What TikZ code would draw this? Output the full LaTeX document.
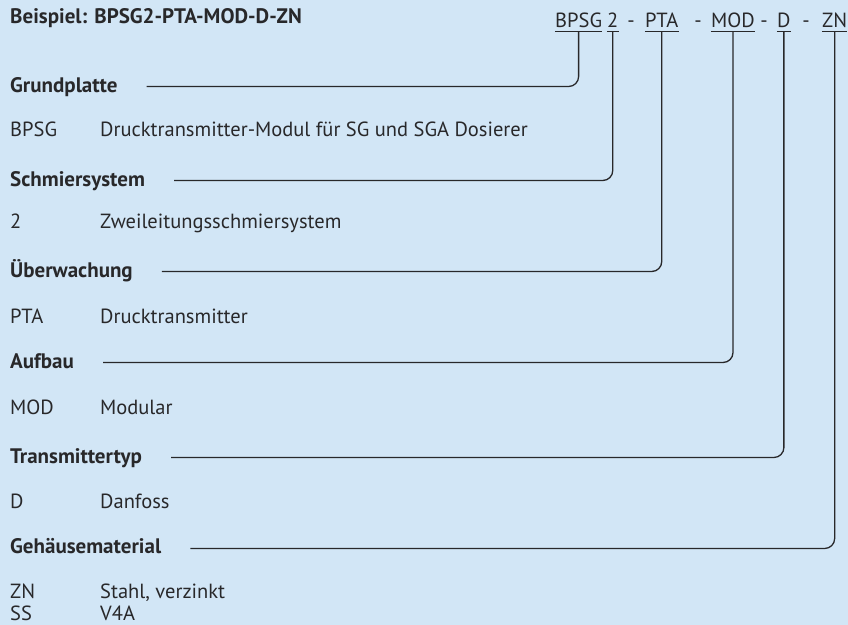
\documentclass[tikz,border=0pt]{standalone}
\usepackage{fontspec}
\setmainfont{PT Sans}
\usetikzlibrary{positioning, calc}
\definecolor{panelblue}{RGB}{210,230,246}
\definecolor{inkgray}{RGB}{40,40,42}

\begin{document}
\begin{tikzpicture}[
    x=1pt, y=-1pt,
    heading/.style={anchor=base west, inner sep=0pt, font=\fontsize{21}{24}\selectfont\bfseries, text=inkgray},
    code/.style={anchor=base west, inner sep=0pt, text depth=0pt, font=\fontsize{20.5}{24}\selectfont, text=inkgray},
    entry/.style={anchor=base west, inner sep=0pt, font=\fontsize{20.5}{24}\selectfont, text=inkgray},
    lead/.style={draw=inkgray, line width=1.3pt, rounded corners=10pt},
    uline/.style={draw=inkgray, line width=1.3pt},
]

% Background
\fill[panelblue] (0,0) rectangle (848,625);

% Example code
\node[heading] (example) at (10,23) {Beispiel: BPSG2-PTA-MOD-D-ZN};
\node[code] (bpsg) at (555,27) {BPSG};
\node[code] (two) at (607,27) {2};
\node[code] (pta) at (645,27) {PTA};
\node[code] (mod) at (711,27) {MOD};
\node[code] (d) at (777,27) {D};
\node[code] (zn) at (822,27) {ZN};
\foreach \x [count=\i] in {631,698,764,806}
    \node[code, anchor=base] (sep\i) at (\x,27) {-};

% Underlines
\foreach \seg in {bpsg,two,pta,mod,d,zn}
    \draw[uline] ([yshift=-4pt]\seg.south west) -- ([yshift=-4pt]\seg.south east);

% Headings
\node[heading] (grund) at (10,92) {Grundplatte};
\node[heading] (schmier) at (10,186) {Schmiersystem};
\node[heading] (ueber) at (10,277) {Überwachung};
\node[heading] (aufbau) at (10,368) {Aufbau};
\node[heading] (ttyp) at (10,463) {Transmittertyp};
\node[heading] (gehaeuse) at (10,554) {Gehäusematerial};

% Entries
\node[entry] (k-bpsg) at (10,136) {BPSG};
\node[entry] (t-bpsg) at (100,136) {Drucktransmitter-Modul für SG und SGA Dosierer};
\node[entry] (k-two) at (10,228) {2};
\node[entry] (t-two) at (100,228) {Zweileitungsschmiersystem};
\node[entry] (k-pta) at (10,323) {PTA};
\node[entry] (t-pta) at (100,323) {Drucktransmitter};
\node[entry] (k-mod) at (10,414) {MOD};
\node[entry] (t-mod) at (100,414) {Modular};
\node[entry] (k-d) at (10,508) {D};
\node[entry] (t-d) at (100,508) {Danfoss};
\node[entry] (k-zn) at (10,598) {ZN};
\node[entry] (t-zn) at (100,598) {Stahl, verzinkt};
\node[entry] (k-ss) at (10,621) {SS};
\node[entry] (t-ss) at (100,621) {V4A};

% Leader lines
\coordinate (grund-l) at ([xshift=29pt,yshift=5.5pt]grund.base east);
\coordinate (schmier-l) at ([xshift=29pt,yshift=5.5pt]schmier.base east);
\coordinate (ueber-l) at ([xshift=29pt,yshift=5.5pt]ueber.base east);
\coordinate (aufbau-l) at ([xshift=29pt,yshift=5.5pt]aufbau.base east);
\coordinate (ttyp-l) at ([xshift=29pt,yshift=5.5pt]ttyp.base east);
\coordinate (gehaeuse-l) at ([xshift=29pt,yshift=5.5pt]gehaeuse.base east);

\draw[lead] (grund-l) -| ([yshift=-4pt]bpsg.south);
\draw[lead] (schmier-l) -| ([yshift=-4pt]two.south);
\draw[lead] (ueber-l) -| ([yshift=-4pt]pta.south);
\draw[lead] (aufbau-l) -| ([yshift=-4pt]mod.south);
\draw[lead] (ttyp-l) -| ([yshift=-4pt]d.south);
\draw[lead] (gehaeuse-l) -| ([yshift=-4pt]zn.south);

\end{tikzpicture}
\end{document}
